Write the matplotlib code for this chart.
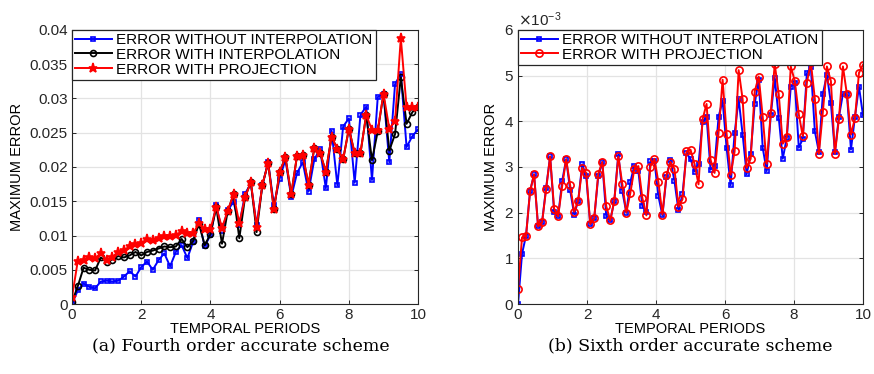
import matplotlib
matplotlib.use("Agg")
import matplotlib.pyplot as plt
import numpy as np
from matplotlib.ticker import FuncFormatter, ScalarFormatter

# ---- data (errors in units of 1e-3) ----
# (a) fourth order scheme, 61 samples over 10 periods
fourth_without = [0.0, 2.0, 3.0, 2.5, 2.3, 3.3, 3.4, 3.3, 3.4, 4.0,
                  4.8, 4.0, 5.4, 6.2, 5.0, 6.4, 7.4, 5.5, 7.6, 8.6,
                  6.7, 9.1, 12.2, 8.4, 10.1, 14.4, 10.7, 13.7, 14.9, 11.5,
                  16.1, 17.6, 11.5, 17.3, 20.7, 14.4, 18.3, 21.1, 15.6, 19.1,
                  20.7, 16.4, 21.1, 22.6, 16.9, 25.3, 17.3, 25.9, 27.1, 17.7,
                  27.6, 28.8, 18.1, 30.2, 30.7, 20.7, 32.1, 33.6, 22.9, 24.5,
                  25.5]
fourth_interp = [0.3, 2.6, 5.3, 5.0, 4.9, 6.8, 6.2, 6.5, 7.0, 6.8,
                 7.1, 7.6, 7.1, 7.6, 7.8, 8.1, 8.4, 8.3, 8.4, 9.5,
                 8.3, 9.2, 11.7, 8.6, 10.2, 14.1, 8.8, 13.6, 16.0, 9.6,
                 15.6, 17.8, 10.5, 17.4, 20.6, 13.8, 19.3, 21.4, 16.0, 21.6,
                 21.7, 17.4, 22.8, 22.1, 19.3, 24.4, 22.6, 21.1, 25.6, 22.0,
                 22.0, 27.6, 21.0, 25.2, 30.7, 22.4, 24.8, 33.1, 26.3, 28.0,
                 28.8]
fourth_proj = [1.0, 6.3, 6.4, 6.8, 6.7, 7.4, 6.4, 6.9, 7.6, 7.9,
               8.4, 8.8, 8.9, 9.5, 9.4, 9.7, 9.9, 10.0, 10.1, 10.6,
               10.4, 10.3, 11.8, 11.0, 10.9, 14.2, 11.1, 13.6, 16.0, 11.8,
               15.6, 17.8, 11.3, 17.4, 20.6, 13.8, 19.3, 21.4, 16.0, 21.6,
               21.7, 17.4, 22.8, 22.1, 19.3, 24.4, 22.6, 21.1, 25.6, 22.0,
               22.0, 27.6, 25.4, 25.4, 30.7, 25.6, 26.7, 38.8, 28.7, 28.7,
               28.8]

# (b) sixth order scheme, 87 samples over 10 periods
sixth_without = [0.0, 1.10, 1.50, 2.47, 2.84, 1.70, 1.80, 2.54, 3.23, 2.02,
                 1.92, 2.69, 3.17, 2.49, 1.96, 2.26, 3.06, 2.80, 1.75, 1.88,
                 2.80, 3.11, 1.92, 1.83, 2.26, 3.28, 2.47, 2.00, 2.67, 3.03,
                 2.91, 2.14, 2.02, 3.13, 3.14, 2.36, 1.94, 2.78, 3.16, 2.69,
                 2.05, 2.40, 3.30, 3.18, 2.90, 3.07, 3.98, 4.10, 2.94, 3.03,
                 4.10, 4.45, 3.42, 2.60, 3.74, 4.49, 3.71, 2.84, 3.29, 4.38,
                 4.91, 3.42, 2.91, 4.13, 4.95, 4.08, 3.18, 3.64, 4.76, 4.83,
                 3.42, 3.62, 5.05, 5.18, 3.78, 3.33, 4.60, 5.02, 4.40, 3.33,
                 4.10, 4.60, 4.59, 3.38, 4.10, 4.76, 4.13]
sixth_proj = [0.34, 1.46, 1.49, 2.47, 2.84, 1.70, 1.79, 2.51, 3.23, 2.09,
              1.92, 2.58, 3.17, 2.60, 2.02, 2.26, 2.98, 2.87, 1.75, 1.88,
              2.85, 3.11, 2.14, 1.83, 2.26, 3.23, 2.63, 2.00, 2.43, 2.96,
              3.02, 2.32, 1.94, 3.01, 3.18, 2.67, 1.96, 2.82, 3.11, 2.96,
              2.13, 2.29, 3.34, 3.38, 3.07, 2.62, 4.04, 4.38, 3.16, 2.87,
              3.75, 4.91, 3.73, 2.83, 3.34, 5.12, 4.48, 2.98, 3.18, 4.65,
              4.98, 4.10, 3.07, 4.18, 5.25, 4.59, 3.51, 3.65, 5.20, 4.88,
              4.15, 3.67, 4.84, 5.29, 4.49, 3.29, 4.21, 5.20, 4.88, 3.29,
              4.05, 5.20, 4.59, 3.71, 4.07, 5.06, 5.24]

labels_a = ["ERROR WITHOUT INTERPOLATION", "ERROR WITH INTERPOLATION",
            "ERROR WITH PROJECTION"]
labels_b = ["ERROR WITHOUT INTERPOLATION", "ERROR WITH PROJECTION"]
captions = ["(a) Fourth order accurate scheme", "(b) Sixth order accurate scheme"]

plt.rcParams["font.family"] = ["Liberation Sans", "DejaVu Sans"]
plt.rcParams["axes.edgecolor"] = "#262626"
plt.rcParams["xtick.color"] = "#262626"
plt.rcParams["ytick.color"] = "#262626"

fig = plt.figure(figsize=(8.74, 3.74), dpi=100)
ax1 = fig.add_axes([0.0824, 0.187, 0.396, 0.733])
ax2 = fig.add_axes([0.5927, 0.187, 0.3947, 0.733])


def style_axes(ax):
    ax.set_xlim(0, 10)
    ax.set_xticks([0, 2, 4, 6, 8, 10])
    ax.grid(True, color="#e3e3e3", linewidth=0.9)
    ax.set_axisbelow(True)
    ax.tick_params(direction="in", top=True, right=True, labelsize=11,
                   length=3, width=0.7, pad=3)
    for s in ax.spines.values():
        s.set_linewidth(0.8)
    ax.set_xlabel("TEMPORAL PERIODS", fontsize=10.5, labelpad=0)
    ax.set_ylabel("MAXIMUM ERROR", fontsize=10.5, labelpad=4)


def add_legend(ax):
    leg = ax.legend(loc="upper left", borderaxespad=0, fontsize=11,
                    fancybox=False, framealpha=1, edgecolor="#262626",
                    handlelength=2.4, handletextpad=0.3, labelspacing=0.05,
                    borderpad=0.2)
    leg.get_frame().set_linewidth(0.9)


# ---- (a) ----
xa = np.linspace(0, 10, len(fourth_proj))
ax1.plot(xa, np.array(fourth_without) * 1e-3, "-s", color="blue", lw=1.4,
         ms=3.5, mfc="none", mew=1.2, label=labels_a[0])
ax1.plot(xa, np.array(fourth_interp) * 1e-3, "-o", color="black", lw=1.4,
         ms=4.3, mfc="none", mew=1.2, label=labels_a[1])
ax1.plot(xa, np.array(fourth_proj) * 1e-3, "-*", color="red", lw=1.4,
         ms=6.5, mew=1.2, label=labels_a[2])
style_axes(ax1)
ax1.set_ylim(0, 0.04)
ax1.set_yticks(np.arange(0, 0.0401, 0.005))
ax1.yaxis.set_major_formatter(FuncFormatter(lambda v, p: "%g" % round(v, 4)))
add_legend(ax1)

# ---- (b) ----
xb = np.linspace(0, 10, len(sixth_proj))
ax2.plot(xb, np.array(sixth_without) * 1e-3, "-s", color="blue", lw=1.4,
         ms=3.5, mfc="none", mew=1.2, label=labels_b[0])
ax2.plot(xb, np.array(sixth_proj) * 1e-3, "-o", color="red", lw=1.4,
         ms=5.2, mfc="none", mew=1.2, label=labels_b[1])
style_axes(ax2)
ax2.set_ylim(0, 0.006)
ax2.set_yticks(np.arange(0, 0.00601, 0.001))
fmt = ScalarFormatter(useMathText=True)
fmt.set_powerlimits((-2, 2))
ax2.yaxis.set_major_formatter(fmt)
ax2.yaxis.get_offset_text().set_fontsize(11)
add_legend(ax2)

fig.text(0.275, 0.075, captions[0], ha="center", va="center",
         fontsize=12.5, family="DejaVu Serif")
fig.text(0.79, 0.075, captions[1], ha="center", va="center",
         fontsize=12.5, family="DejaVu Serif")

fig.savefig("out.png", dpi=100)
